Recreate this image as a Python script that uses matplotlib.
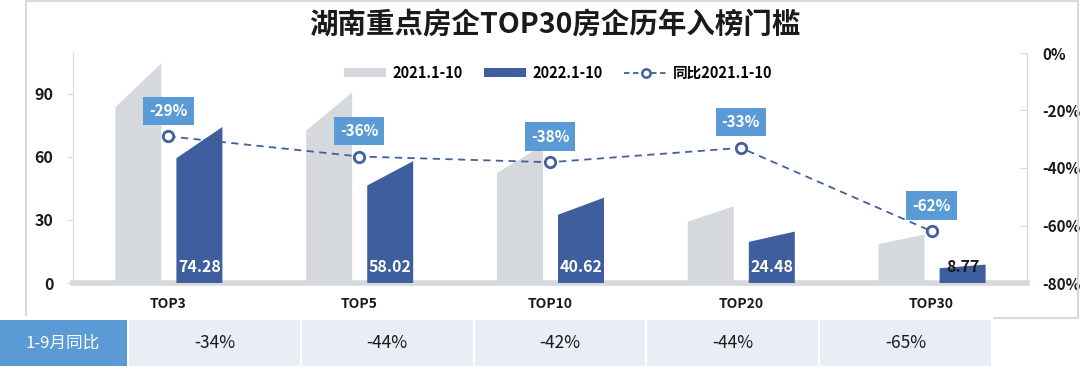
import matplotlib
matplotlib.use('Agg')
import matplotlib.pyplot as plt
from matplotlib.patches import Polygon, Rectangle, Patch
from matplotlib.lines import Line2D
from matplotlib.ticker import MultipleLocator, FuncFormatter

plt.rcParams['font.family'] = ['Noto Sans CJK SC', 'DejaVu Sans']

# ---------------- data ----------------
categories = ['TOP3', 'TOP5', 'TOP10', 'TOP20', 'TOP30']
values_2021 = [104.6, 90.7, 65.5, 36.5, 23.1]
values_2022 = [74.28, 58.02, 40.62, 24.48, 8.77]
yoy_2022 = [-0.29, -0.36, -0.38, -0.33, -0.62]
yoy_jan_sep = [-34, -44, -42, -44, -65]
table_header = '1-9月同比'
title_text = '湖南重点房企TOP30房企历年入榜门槛'
legend_labels = ['2021.1-10', '2022.1-10', '同比2021.1-10']

# ---------------- style ----------------
GRAY = '#d5d8dd'
BLUE = '#3f5e9e'
LINE = '#42609b'
BOX = '#5b9bd5'
CELL = '#e9edf6'
SPINE = '#d9d9d9'
TXT = '#1a1a1a'

W, H = 1080, 369
fig = plt.figure(figsize=(W / 100, H / 100), dpi=100)


def fx(px):
    return px / W


def fy(py):
    return 1 - py / H


# frame around chart
fig.patches.append(Rectangle((fx(26), fy(318)), fx(1078) - fx(26), fy(1) - fy(318),
                             transform=fig.transFigure, fill=False, ec=SPINE, lw=1.5))

ax = fig.add_axes([fx(73), fy(283), fx(1027) - fx(73), fy(53) - fy(283)])
ax2 = ax.twinx()

n = len(categories)
ax.set_xlim(-0.5, n - 0.5)
ax.set_ylim(0, 109.5)
ax2.set_ylim(-0.8, 0)

slant = 0.8
g0, g1 = -0.278, -0.037
b0, b1 = 0.042, 0.283
for i in range(n):
    v = values_2021[i]
    ax.add_patch(Polygon([(i + g0, 0), (i + g0, v * slant), (i + g1, v), (i + g1, 0)],
                         closed=True, fc=GRAY, ec='none', zorder=2))
    v = values_2022[i]
    ax.add_patch(Polygon([(i + b0, 0), (i + b0, v * slant), (i + b1, v), (i + b1, 0)],
                         closed=True, fc=BLUE, ec='none', zorder=2))
    col = 'white' if v > 12 else TXT
    ax.text(i + (b0 + b1) / 2, 7.8, f'{v:.2f}', ha='center', va='center',
            fontsize=11.5, fontweight='bold', color=col, zorder=3)

ax.axhline(0, color=GRAY, lw=4, zorder=1, clip_on=False)

ax.set_xticks(range(n))
ax.set_xticklabels(categories, fontsize=10, fontweight='bold', color=TXT)
ax.tick_params(axis='x', length=0, pad=10)
ax.yaxis.set_major_locator(MultipleLocator(30))
ax.tick_params(axis='y', direction='out', length=4, color=SPINE, pad=10,
               labelsize=11.5, labelcolor=TXT)
for lab in ax.get_yticklabels():
    lab.set_fontweight('bold')
ax.spines['top'].set_visible(False)
ax.spines['right'].set_visible(False)
ax.spines['bottom'].set_visible(False)
ax.spines['left'].set_color(SPINE)

ax2.plot(range(n), yoy_2022, ls=(0, (4, 3)), lw=1.3, color=LINE, marker='o',
         ms=7.5, mfc='white', mec=LINE, mew=2, zorder=5)
for i, r in enumerate(yoy_2022):
    ax2.annotate(f'{r * 100:.0f}%', (i, r), xytext=(0, 18.5), textcoords='offset points',
                 ha='center', va='center', fontsize=11, fontweight='bold', color='white',
                 bbox=dict(boxstyle='square,pad=0.4', fc=BOX, ec='none'), zorder=6)
ax2.yaxis.set_major_locator(MultipleLocator(0.2))
ax2.yaxis.set_major_formatter(FuncFormatter(lambda v, p: f'{v * 100:.0f}%'))
ax2.tick_params(axis='y', direction='in', length=5, color=SPINE, pad=11,
                labelsize=11, labelcolor=TXT)
for lab in ax2.get_yticklabels():
    lab.set_fontweight('bold')
for s in ['top', 'left', 'bottom']:
    ax2.spines[s].set_visible(False)
ax2.spines['right'].set_color(SPINE)

# title
fig.text(fx(555), fy(25), title_text, ha='center', va='center', fontsize=20.5,
         fontweight='bold', color=TXT)

# legend
handles = [Patch(fc=GRAY, ec='none'), Patch(fc=BLUE, ec='none'),
           Line2D([], [], ls=(0, (3, 2)), lw=1.3, color=LINE, marker='o', ms=6,
                  mfc='white', mec=LINE, mew=1.8)]
fig.legend(handles, legend_labels, loc='center', bbox_to_anchor=(fx(558), fy(73)), ncol=3,
           frameon=False, prop=dict(weight='bold', size=10.5), handlelength=2.9,
           handleheight=0.6, handletextpad=0.4, columnspacing=1.5)

# table
fig.patches.append(Rectangle((0, fy(369)), fx(993), fy(316) - fy(369),
                             transform=fig.transFigure, fc='white', ec='none'))
top, bot = 320, 366
fig.patches.append(Rectangle((0, fy(bot)), fx(127), fy(top) - fy(bot),
                             transform=fig.transFigure, fc=BOX, ec='none'))
fig.text(fx(63), fy((top + bot) / 2), table_header, ha='center', va='center',
         fontsize=12, color='white')
cw = (991 - 127) / n
for i, m in enumerate(yoy_jan_sep):
    x0 = 127 + 2 + i * cw
    x1 = 127 + (i + 1) * cw
    fig.patches.append(Rectangle((fx(x0), fy(bot)), fx(x1 - x0), fy(top) - fy(bot),
                                 transform=fig.transFigure, fc=CELL, ec='none'))
    fig.text(fx((x0 + x1) / 2), fy((top + bot) / 2), f'{m}%', ha='center', va='center',
             fontsize=12.5, color=TXT)

fig.savefig('out.png', dpi=100)
